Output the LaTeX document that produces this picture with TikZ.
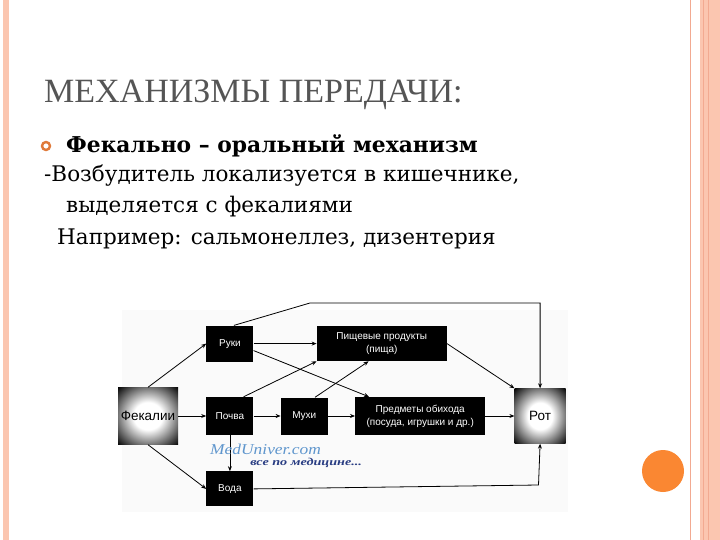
\documentclass[tikz,border=0pt]{standalone}
\usepackage{fontspec}
\setmainfont{DejaVu Serif}
\setsansfont{Liberation Sans}
\newfontfamily\titlefont{Liberation Serif}
\usetikzlibrary{arrows.meta, positioning}
\definecolor{framepeach}{RGB}{251,198,176}
\definecolor{framelinepeach}{RGB}{242,170,145}
\definecolor{bulletorange}{RGB}{224,122,58}
\definecolor{dotorange}{RGB}{250,135,50}
\definecolor{titlegray}{RGB}{85,85,85}
\definecolor{watermarkblue}{RGB}{95,150,205}
\definecolor{watermarkdark}{RGB}{40,60,130}
\pgfdeclareradialshading{glow}{\pgfpoint{0bp}{0bp}}{color(0bp)=(white); color(12bp)=(white); color(36bp)=(black); color(50bp)=(black)}

\begin{document}
\begin{tikzpicture}[x=1pt, y=-1pt,
    every node/.style={inner sep=0pt},
    flowbox/.style={rectangle, fill=black, text=white, font=\sffamily\fontsize{10}{13}\selectfont, minimum width=47pt, minimum height=37pt, align=center},
    widebox/.style={flowbox, minimum width=130pt},
    glowbox/.style={rectangle, shading=glow, text=black, font=\sffamily\fontsize{13.5}{15}\selectfont},
    bodytext/.style={anchor=base west, font=\fontsize{21.5}{24}\selectfont},
    arrow/.style={-{Stealth[length=5pt, width=4pt]}, line width=0.8pt}
]
\fill[white] (0,0) rectangle (720,540);
\useasboundingbox (0,0) rectangle (720,540);

% Slide frame
\fill[framepeach] (3,0) rectangle (9,540);
\fill[framepeach] (700,0) rectangle (720,540);
\draw[framelinepeach, line width=1pt] (690,0) -- (690,540);
\draw[framelinepeach, line width=1pt] (703,0) -- (703,540);
\draw[framelinepeach, line width=1pt] (708,0) -- (708,540);
\fill[dotorange] (663,471) circle (21pt);

% Title and text
\node[anchor=base west, font=\titlefont\fontsize{34}{36}\selectfont, text=titlegray] (title) at (44,103) {МЕХАНИЗМЫ ПЕРЕДАЧИ:};
\draw[bulletorange, line width=2.4pt] (46,146) circle (4pt);
\node[bodytext, font=\bfseries\fontsize{21.8}{24}\selectfont] (head) at (66,153) {Фекально – оральный механизм};
\node[bodytext] (line1) at (44,182) {-Возбудитель локализуется в кишечнике,};
\node[bodytext] (line2) at (66,212) {выделяется с фекалиями};
\node[bodytext] (line3) at (57,244) {Например: сальмонеллез, дизентерия};

% Scheme
\fill[gray!4] (122,310) rectangle (568,512);
\node[glowbox, minimum width=60pt, minimum height=57pt] (fek) at (148,416) {Фекалии};
\node[flowbox, right=28pt of fek, minimum height=38pt] (pochva) {Почва};
\node[flowbox, right=27pt of pochva] (mukhi) {Мухи};
\node[widebox, right=27pt of mukhi, minimum height=38pt] (predm) {Предметы обихода\\(посуда, игрушки и др.)};
\node[glowbox, right=29pt of predm, minimum width=51pt, minimum height=55pt] (rot) {Рот};
\node[flowbox, above=35pt of pochva, minimum height=36pt] (ruki) {Руки};
\node[widebox, right=63pt of ruki, minimum height=35pt] (pishch) {Пищевые продукты\\(пища)};
\node[flowbox, below=36pt of pochva, minimum height=35pt] (voda) {Вода};

% Paths of transmission
\draw[arrow] (fek.north) -- (ruki.west);
\draw[arrow] (fek.east) -- (pochva.west);
\draw[arrow] (fek.south) -- (voda.west);
\draw[arrow] (ruki.east) -- (pishch.west);
\draw[arrow] ([yshift=-7pt]ruki.east) -- ([xshift=14pt]predm.north west);
\draw[arrow] ([xshift=-10pt]pochva.north east) -- (pishch.south west);
\draw[arrow] (pochva.east) -- (mukhi.west);
\draw[arrow] (pochva.south) -- (voda.north);
\draw[arrow] ([xshift=-13pt]mukhi.north east) -- ([xshift=52pt]pishch.south west);
\draw[arrow] (mukhi.east) -- (predm.west);
\draw[arrow] (pishch.east) -- (rot.north west);
\draw[arrow] (predm.east) -- (rot.west);
\coordinate (topbend) at (310,303);
\draw[arrow] ([xshift=4pt]ruki.north) -- (topbend) -| (rot.north);
\coordinate (lowbend) at (538.5,485);
\draw[arrow] (voda.east) -- (lowbend) -- (rot.south);

% Watermark
\node[anchor=base west, xscale=1.16, transform shape, font=\titlefont\itshape\fontsize{15}{16}\selectfont, text=watermarkblue] (wm) at (210,454) {MedUniver.com};
\node[anchor=base west, xscale=1.35, transform shape, font=\titlefont\bfseries\itshape\fontsize{10.5}{12}\selectfont, text=watermarkdark] (wmsub) at (250,465) {все по медицине...};
\end{tikzpicture}
\end{document}
